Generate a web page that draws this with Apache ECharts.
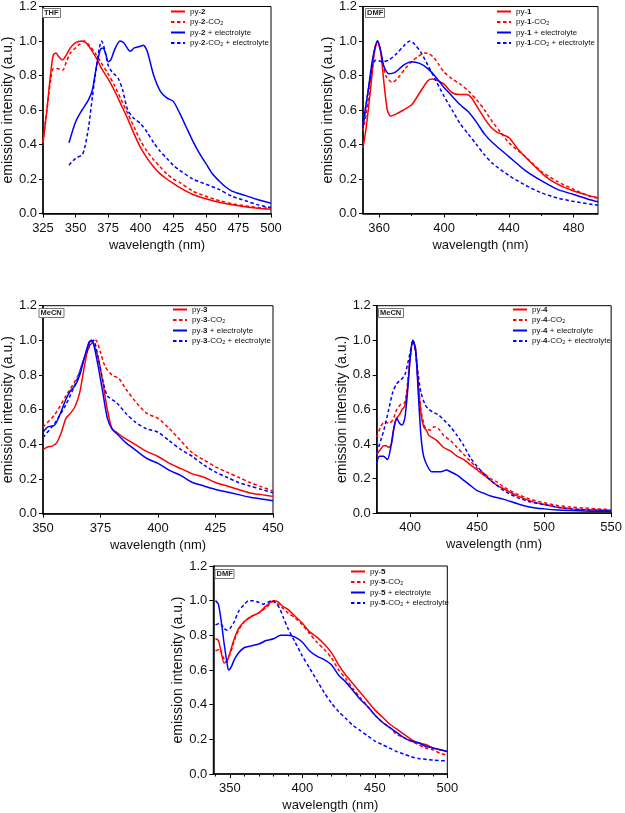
<!DOCTYPE html>
<html><head><meta charset="utf-8">
<script src="https://cdn.jsdelivr.net/npm/echarts@6/dist/echarts.min.js"></script>
<style>html,body{margin:0;padding:0;background:#fff}#c{width:625px;height:813px}</style>
</head><body><div id="c"></div>
<script>
// ---------- Panel 1 (THF, py-2) ----------
const p1_solid_x = [325,328,331,333,335,337,340,343,346,350,355,358,362,366,370,375,380,385,390,395,400,405,410,415,420,425,430,440,450,460,475,490,500];
const p1_solid_y = [0.41,0.6,0.82,0.92,0.93,0.91,0.89,0.92,0.96,0.99,1.0,0.99,0.95,0.9,0.84,0.78,0.71,0.63,0.55,0.46,0.38,0.32,0.27,0.23,0.2,0.175,0.15,0.11,0.085,0.065,0.045,0.03,0.025];
const p1_co2_x = [325,328,331,333,336,340,343,346,350,353,357,360,365,370,375,380,385,390,395,400,405,410,415,420,425,430,440,450,460,475,490,500];
const p1_co2_y = [0.41,0.6,0.78,0.84,0.84,0.83,0.88,0.93,0.96,0.98,1.0,0.98,0.93,0.87,0.81,0.74,0.66,0.58,0.5,0.42,0.36,0.31,0.27,0.23,0.2,0.18,0.13,0.1,0.075,0.05,0.035,0.03];
const p1_el_x = [345,350,355,360,363,366,369,371,373,375,377,380,384,387,392,395,400,402,405,410,415,420,425,430,435,440,445,450,455,460,465,470,480,490,500];
const p1_el_y = [0.41,0.53,0.6,0.66,0.72,0.85,0.95,0.96,0.93,0.88,0.89,0.95,1.0,0.99,0.94,0.96,0.97,0.975,0.94,0.8,0.71,0.67,0.65,0.58,0.5,0.42,0.35,0.29,0.23,0.19,0.155,0.13,0.105,0.08,0.06];
const p1_co2el_x = [345,350,355,357,360,363,366,368,370,372,375,378,381,383,386,390,395,400,405,410,415,420,425,430,440,450,460,470,480,490,500];
const p1_co2el_y = [0.28,0.32,0.34,0.38,0.5,0.68,0.85,0.95,1.0,0.96,0.86,0.82,0.8,0.78,0.72,0.6,0.55,0.52,0.47,0.41,0.36,0.32,0.28,0.25,0.2,0.17,0.14,0.1,0.075,0.05,0.035];

// ---------- Panel 2 (DMF, py-1) ----------
const p2_solid_x = [350,352,355,357,359,361,363,365,367,370,375,380,385,390,393,396,400,405,410,414,417,421,425,429,433,440,445,452,462,470,480,489,495];
const p2_solid_y = [0.38,0.5,0.75,0.93,1.0,0.93,0.75,0.6,0.565,0.575,0.6,0.63,0.7,0.77,0.78,0.77,0.75,0.7,0.69,0.69,0.67,0.61,0.55,0.5,0.47,0.44,0.38,0.31,0.22,0.17,0.13,0.105,0.092];
const p2_co2_x = [350,352,355,357,359,361,364,368,372,376,380,384,388,391,394,397,400,405,410,415,420,425,430,435,440,450,460,470,480,490,495];
const p2_co2_y = [0.48,0.58,0.78,0.95,1.0,0.93,0.8,0.76,0.79,0.84,0.88,0.91,0.93,0.925,0.9,0.86,0.82,0.78,0.75,0.71,0.66,0.6,0.53,0.47,0.41,0.33,0.245,0.185,0.14,0.1,0.088];
const p2_el_x = [350,353,356,359,361,363,366,370,375,380,385,390,395,400,405,410,415,420,425,430,440,450,460,470,480,490,495];
const p2_el_y = [0.52,0.7,0.9,1.0,0.94,0.85,0.81,0.82,0.86,0.88,0.87,0.84,0.79,0.73,0.68,0.63,0.59,0.53,0.46,0.41,0.33,0.25,0.19,0.14,0.11,0.08,0.068];
const p2_co2el_x = [350,353,356,358,362,366,370,375,379,382,386,390,395,400,405,410,415,420,425,430,440,450,460,470,480,490,495];
const p2_co2el_y = [0.5,0.7,0.86,0.89,0.88,0.89,0.92,0.97,1.0,0.98,0.93,0.86,0.77,0.68,0.6,0.52,0.46,0.4,0.34,0.29,0.22,0.165,0.12,0.09,0.07,0.055,0.048];

// ---------- Panel 3 (MeCN, py-3) ----------
const p3_solid_x = [350,352,354,356,358,360,362,364,366,368,370,371,372,374,376,378,380,382,385,390,395,400,405,410,415,420,425,430,435,440,445,450];
const p3_solid_y = [0.37,0.385,0.39,0.41,0.47,0.55,0.58,0.62,0.7,0.85,0.98,1.0,0.98,0.9,0.76,0.6,0.49,0.47,0.44,0.4,0.36,0.33,0.29,0.26,0.23,0.21,0.18,0.16,0.14,0.12,0.11,0.1];
const p3_co2_x = [350,355,360,365,368,371,373,375,377,380,383,386,390,395,400,405,410,415,420,425,430,435,440,445,450];
const p3_co2_y = [0.5,0.57,0.68,0.79,0.9,0.98,1.0,0.93,0.85,0.8,0.78,0.72,0.65,0.58,0.55,0.49,0.42,0.35,0.31,0.27,0.24,0.21,0.18,0.155,0.13];
const p3_el_x = [350,352,355,357,360,362,364,366,368,370,371,372,374,376,378,380,383,386,390,395,400,405,410,415,420,425,430,435,440,445,450];
const p3_el_y = [0.47,0.5,0.51,0.56,0.66,0.71,0.74,0.8,0.9,0.99,1.0,0.98,0.85,0.7,0.55,0.49,0.45,0.41,0.37,0.32,0.29,0.25,0.22,0.18,0.16,0.14,0.125,0.11,0.095,0.085,0.075];
const p3_co2el_x = [350,355,360,365,368,371,372,374,376,378,382,386,390,395,400,405,410,415,420,425,430,435,440,445,450];
const p3_co2el_y = [0.44,0.52,0.63,0.78,0.9,0.99,1.0,0.9,0.77,0.68,0.64,0.58,0.53,0.49,0.47,0.42,0.37,0.33,0.28,0.24,0.21,0.18,0.16,0.14,0.12];

// ---------- Panel 4 (MeCN, py-4) ----------
const p4_solid_x = [375,378,380,382,384,386,388,390,392,394,396,398,400,402,404,406,408,410,412,414,418,420,425,430,435,440,445,450,455,460,465,470,480,490,500,510,520,530,540,550];
const p4_solid_y = [0.34,0.37,0.39,0.39,0.38,0.4,0.5,0.55,0.57,0.6,0.62,0.72,0.9,1.0,0.95,0.75,0.58,0.5,0.48,0.45,0.43,0.42,0.38,0.36,0.33,0.31,0.28,0.25,0.22,0.19,0.16,0.14,0.1,0.07,0.05,0.035,0.025,0.02,0.018,0.015];
const p4_co2_x = [375,378,381,384,387,390,393,396,398,400,402,404,406,408,411,415,418,421,425,430,435,440,445,450,455,460,465,470,480,490,500,510,520,530,540,550];
const p4_co2_y = [0.44,0.5,0.53,0.52,0.54,0.6,0.63,0.64,0.75,0.9,1.0,0.93,0.75,0.6,0.5,0.48,0.5,0.49,0.45,0.42,0.38,0.34,0.3,0.26,0.23,0.2,0.18,0.15,0.11,0.08,0.06,0.045,0.035,0.03,0.025,0.02];
const p4_el_x = [375,377,380,383,385,388,390,392,394,396,398,400,402,404,406,408,410,413,416,420,423,427,430,435,440,445,450,455,460,470,480,490,500,510,520,530,540,550];
const p4_el_y = [0.29,0.33,0.33,0.31,0.36,0.5,0.55,0.52,0.51,0.55,0.7,0.9,1.0,0.95,0.7,0.45,0.33,0.27,0.24,0.24,0.24,0.25,0.24,0.22,0.19,0.16,0.13,0.115,0.1,0.08,0.055,0.035,0.025,0.018,0.015,0.013,0.012,0.012];
const p4_co2el_x = [375,378,381,384,387,390,393,396,398,400,402,404,406,408,411,414,418,421,425,430,435,440,445,450,455,460,465,470,480,490,500,510,520,530,540,550];
const p4_co2el_y = [0.35,0.42,0.5,0.6,0.7,0.75,0.77,0.8,0.86,0.93,1.0,0.93,0.8,0.7,0.63,0.6,0.58,0.57,0.54,0.5,0.45,0.39,0.32,0.27,0.23,0.19,0.16,0.13,0.09,0.065,0.05,0.035,0.025,0.02,0.017,0.015];

// ---------- Panel 5 (DMF, py-5) ----------
const p5_solid_x = [340,342,344,346,348,350,353,356,360,365,370,375,380,383,386,390,395,400,405,410,415,420,425,430,435,440,445,450,455,460,465,470,475,480,485,490,495,500];
const p5_solid_y = [0.78,0.77,0.7,0.64,0.65,0.7,0.78,0.84,0.88,0.91,0.93,0.97,1.0,0.995,0.97,0.95,0.91,0.87,0.82,0.79,0.75,0.7,0.63,0.57,0.52,0.47,0.42,0.37,0.33,0.29,0.26,0.23,0.2,0.18,0.17,0.15,0.14,0.13];
const p5_co2_x = [340,343,345,347,350,353,356,360,365,370,375,380,383,386,390,395,400,405,410,415,420,425,430,435,440,445,450,455,460,465,470,475,480,485,490,495,500];
const p5_co2_y = [0.71,0.72,0.68,0.65,0.69,0.77,0.83,0.88,0.91,0.93,0.96,0.995,0.98,0.96,0.93,0.9,0.86,0.81,0.76,0.72,0.67,0.6,0.55,0.49,0.44,0.39,0.34,0.3,0.27,0.23,0.21,0.19,0.17,0.15,0.14,0.12,0.11];
const p5_el_x = [340,342,344,346,348,349,351,353,356,360,365,370,375,380,385,390,395,400,405,410,415,420,425,430,435,440,445,450,455,460,465,470,475,480,485,490,495,500];
const p5_el_y = [1.0,0.98,0.88,0.75,0.64,0.6,0.62,0.66,0.7,0.73,0.74,0.75,0.77,0.78,0.8,0.8,0.79,0.76,0.71,0.68,0.66,0.63,0.57,0.53,0.48,0.43,0.39,0.34,0.3,0.27,0.24,0.21,0.19,0.18,0.16,0.15,0.14,0.13];
const p5_co2el_x = [340,343,346,348,350,353,356,360,363,366,370,373,376,379,381,384,387,390,395,400,405,410,415,420,425,430,435,440,445,450,455,460,465,470,475,480,490,500];
const p5_co2el_y = [0.86,0.87,0.84,0.83,0.84,0.88,0.94,0.98,1.0,1.0,0.99,0.98,0.99,1.0,0.99,0.96,0.9,0.84,0.76,0.68,0.61,0.54,0.47,0.41,0.36,0.32,0.28,0.25,0.22,0.19,0.17,0.15,0.13,0.115,0.1,0.09,0.08,0.075];

// ---------- tick labels ----------
const p1_xticks = [325,350,375,400,425,450,475,500];
const p2_xticks = [360,400,440,480];
const p2_xminor = [380,420,460];
const p3_xticks = [350,375,400,425,450];
const p4_xticks = [400,450,500,550];
const p5_xticks = [350,400,450,500];
const p5_xminor = [340,360,370,380,390,410,420,430,440,460,470,480,490];

const RED = '#ff0000', BLUE = '#0000ff';
const FONT = '"Liberation Sans", Arial, Helvetica, sans-serif';

const panels = [
  {tag:'THF', grid:{left:39.5, top:5, width:231.5, height:208.5}, xMin:325, xMax:500, ticks:p1_xticks, minor:[],
   legendPos:{left:170, top:7}, tagPos:{left:42, top:8},
   series:[['py-2',p1_solid_x,p1_solid_y,RED,false],['py-2-CO2',p1_co2_x,p1_co2_y,RED,true],
           ['py-2 + electrolyte',p1_el_x,p1_el_y,BLUE,false],['py-2-CO2 + electrolyte',p1_co2el_x,p1_co2el_y,BLUE,true]]},
  {tag:'DMF', grid:{left:363, top:5, width:235, height:208.5}, xMin:350, xMax:495, ticks:p2_xticks, minor:p2_xminor,
   legendPos:{left:496, top:7}, tagPos:{left:365, top:8},
   series:[['py-1',p2_solid_x,p2_solid_y,RED,false],['py-1-CO2',p2_co2_x,p2_co2_y,RED,true],
           ['py-1 + electrolyte',p2_el_x,p2_el_y,BLUE,false],['py-1-CO2 + electrolyte',p2_co2el_x,p2_co2el_y,BLUE,true]]},
  {tag:'MeCN', grid:{left:38, top:305.7, width:235, height:208}, xMin:350, xMax:450, ticks:p3_xticks, minor:[],
   legendPos:{left:172, top:305}, tagPos:{left:38.5, top:308},
   series:[['py-3',p3_solid_x,p3_solid_y,RED,false],['py-3-CO2',p3_co2_x,p3_co2_y,RED,true],
           ['py-3 + electrolyte',p3_el_x,p3_el_y,BLUE,false],['py-3-CO2 + electrolyte',p3_co2el_x,p3_co2el_y,BLUE,true]]},
  {tag:'MeCN', grid:{left:376.7, top:305.7, width:237.3, height:207.5}, xMin:375, xMax:550, ticks:p4_xticks, minor:[],
   legendPos:{left:512, top:305}, tagPos:{left:378, top:308},
   series:[['py-4',p4_solid_x,p4_solid_y,RED,false],['py-4-CO2',p4_co2_x,p4_co2_y,RED,true],
           ['py-4 + electrolyte',p4_el_x,p4_el_y,BLUE,false],['py-4-CO2 + electrolyte',p4_co2el_x,p4_co2el_y,BLUE,true]]},
  {tag:'DMF', grid:{left:213.3, top:566, width:234, height:209}, xMin:338.5, xMax:500, ticks:p5_xticks, minor:p5_xminor,
   legendPos:{left:350, top:567}, tagPos:{left:214.5, top:569},
   series:[['py-5',p5_solid_x,p5_solid_y,RED,false],['py-5-CO2',p5_co2_x,p5_co2_y,RED,true],
           ['py-5 + electrolyte',p5_el_x,p5_el_y,BLUE,false],['py-5-CO2 + electrolyte',p5_co2el_x,p5_co2el_y,BLUE,true]]}
];

const grids = [], xAxes = [], yAxes = [], series = [], legends = [], titles = [];
panels.forEach((p, i) => {
  grids.push(Object.assign({show:true, borderColor:'#000', borderWidth:1, backgroundColor:'transparent'}, p.grid));
  const xi = xAxes.length;
  xAxes.push({
    type:'value', gridIndex:i, min:p.xMin, max:p.xMax,
    name:'wavelength (nm)', nameLocation:'middle', nameGap:25,
    nameTextStyle:{fontFamily:FONT, fontSize:13, color:'#111'},
    axisLine:{onZero:false, lineStyle:{color:'#000', width:1.5}},
    axisTick:{inside:false, length:4, customValues:p.ticks, lineStyle:{color:'#000', width:1}},
    axisLabel:{customValues:p.ticks, fontFamily:FONT, fontSize:13, color:'#111', margin:8, showMinLabel:true, showMaxLabel:true},
    splitLine:{show:false}
  });
  if (p.minor.length) {
    xAxes.push({
      type:'value', gridIndex:i, min:p.xMin, max:p.xMax, position:'bottom',
      axisLine:{show:false}, axisLabel:{show:false}, splitLine:{show:false},
      axisTick:{show:true, length:2.5, customValues:p.minor, lineStyle:{color:'#000', width:1}}
    });
  }
  yAxes.push({
    type:'value', gridIndex:i, min:0, max:1.2, interval:0.2,
    name:'emission intensity (a.u.)', nameLocation:'middle', nameGap:24,
    nameTextStyle:{fontFamily:FONT, fontSize:14, color:'#111'},
    axisLine:{show:true, lineStyle:{color:'#000', width:1.5}},
    axisTick:{show:true, inside:false, length:4, lineStyle:{color:'#000', width:1}},
    axisLabel:{fontFamily:FONT, fontSize:13, color:'#111', margin:6, formatter:v => v.toFixed(1)},
    splitLine:{show:false}
  });
  const names = [];
  p.series.forEach(([name, xs, ys, color, dashed]) => {
    names.push(name);
    series.push({
      type:'line', name, xAxisIndex:xi, yAxisIndex:i,
      data: xs.map((x, k) => [x, ys[k]]),
      showSymbol:false, symbol:'none', smooth:0.25, animation:false,
      lineStyle:{color, width:1.5, type: dashed ? [3.5, 2.5] : 'solid'},
      itemStyle:{color}
    });
  });
  legends.push({
    orient:'vertical', left:p.legendPos.left, top:p.legendPos.top, data:names,
    itemWidth:14, itemHeight:8, itemGap:1.5, padding:0, selectedMode:false,
    itemStyle:{opacity:0, borderWidth:0},
    textStyle:{fontFamily:FONT, fontSize:8, color:'#111', lineHeight:9,
      rich:{b:{fontFamily:FONT, fontSize:8, fontWeight:'bold', color:'#111', lineHeight:9},
            s:{fontFamily:FONT, fontSize:5.5, color:'#111', lineHeight:5, verticalAlign:'bottom'}}},
    formatter: n => n.replace(/py-(\d)/, 'py-{b|$1}').replace('CO2', 'CO{s|2}')
  });
  titles.push({
    text:p.tag, left:p.tagPos.left, top:p.tagPos.top, padding:[1,2,1,2],
    borderColor:'#777', borderWidth:1, backgroundColor:'#fff',
    textStyle:{fontFamily:FONT, fontSize:7.5, fontWeight:'bold', color:'#222', lineHeight:8}
  });
});

const chart = echarts.init(document.getElementById('c'), null, {renderer:'canvas'});
chart.setOption({
  backgroundColor:'#fff', animation:false,
  title:titles, legend:legends, grid:grids, xAxis:xAxes, yAxis:yAxes, series
});
</script></body></html>
